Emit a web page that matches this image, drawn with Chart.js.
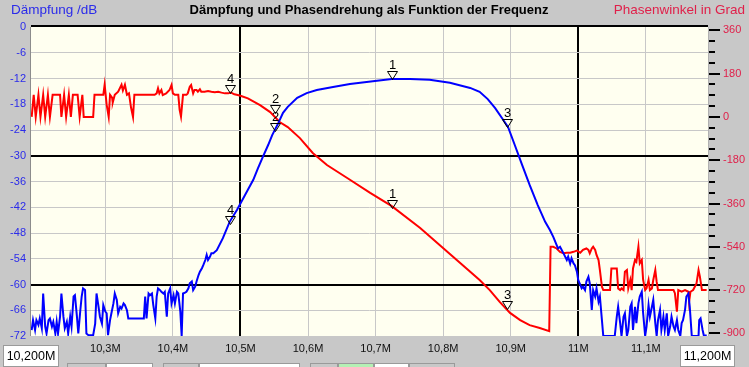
<!DOCTYPE html>
<html>
<head>
<meta charset="utf-8">
<script src="https://cdn.jsdelivr.net/npm/chart.js@4.4.1/dist/chart.umd.min.js"></script>
<style>
  html, body { margin: 0; padding: 0; background: #C8C8C8; }
  #wrap { position: relative; width: 749px; height: 367px; overflow: hidden; background: #C8C8C8; font-family: "Liberation Sans", Arial, sans-serif; }
  #c { position: absolute; left: 0; top: 0; }
  .t { position: absolute; white-space: nowrap; line-height: 1; }
  .box { position: absolute; background: #fff; border: 1px solid #9a9a9a; box-sizing: border-box; font-size: 12.5px; text-align: center; color: #000; }
  .sl { position: absolute; top: 363px; height: 4px; box-sizing: border-box; border: 1px solid #9a9a9a; border-bottom: none; }
</style>
</head>
<body>
<div id="wrap">
  <canvas id="c" width="749" height="367"></canvas>
  <div class="t" style="left:11px;top:3px;font-size:13.5px;color:#2B2BEA;">Dämpfung /dB</div>
  <div class="t" style="left:369px;top:3px;transform:translateX(-50%);font-size:13px;font-weight:bold;color:#000;">Dämpfung und Phasendrehung als Funktion der Frequenz</div>
  <div class="t" style="right:4px;top:3px;font-size:13.5px;color:#E0204A;">Phasenwinkel in Grad</div>
  <div class="sl" style="left:67px;width:39px;background:#C8C8C8;"></div>
  <div class="sl" style="left:106px;width:47px;background:#fff;"></div>
  <div class="sl" style="left:163px;width:36px;background:#C8C8C8;"></div>
  <div class="sl" style="left:199px;width:101px;background:#fff;"></div>
  <div class="sl" style="left:310px;width:28px;background:#C8C8C8;"></div>
  <div class="sl" style="left:338px;width:36px;background:#B4F0B4;"></div>
  <div class="sl" style="left:374px;width:35px;background:#fff;"></div>
  <div class="sl" style="left:409px;width:46px;background:#C8C8C8;"></div>
  <div class="box" style="left:3px;top:345px;width:56px;height:22px;line-height:20px;">10,200M</div>
  <div class="box" style="left:680px;top:345px;width:55px;height:22px;line-height:20px;">11,200M</div>
</div>
<script>
// ---- data (frequency in kHz) ----
const blueFreq = [10191,10193,10196,10198,10201,10203,10206,10208,10211,10213,10216,10218,10221,10223,10226,10228,10230,10233,10235,10238,10240,10243,10245,10248,10250,10253,10255,10258,10260,10263,10265,10267,10270,10272,10275,10282,10285,10287,10290,10292,10295,10297,10300,10302,10304,10307,10309,10312,10314,10317,10319,10322,10324,10327,10329,10332,10334,10357,10359,10361,10364,10366,10369,10371,10374,10376,10378,10381,10383,10386,10388,10391,10393,10396,10398,10401,10403,10406,10408,10411,10413,10415,10418,10420,10423,10425,10428,10430,10433,10435,10438,10440,10443,10445,10448,10450,10452,10455,10457,10460,10462,10465,10474,10484,10495,10507,10519,10526,10533,10541,10547,10556,10563,10570,10584,10598,10613,10637,10662,10699,10724,10751,10780,10810,10840,10854,10866,10877,10887,10896,10906,10917,10928,10940,10951,10958,10963,10968,10970,10973,10978,10983,10985,10988,10990,10993,10995,10998,11000,11003,11005,11007,11010,11012,11015,11017,11020,11022,11025,11027,11030,11032,11035,11037,11054,11057,11059,11062,11064,11067,11069,11072,11074,11077,11079,11081,11084,11086,11089,11091,11094,11096,11099,11101,11104,11106,11109,11111,11114,11116,11118,11121,11123,11126,11128,11131,11133,11136,11138,11141,11143,11146,11148,11151,11153,11155,11158,11160,11163,11165,11168,11178,11179,11181,11184,11186,11190];
const blueDb = [-70.6,-68.3,-70.6,-68.3,-69.4,-67.9,-70.2,-62.1,-69.8,-71.4,-68.3,-67.9,-69.8,-68.7,-71.4,-68.7,-71.4,-67.5,-62.1,-67.5,-70.2,-68.7,-71.4,-67.5,-69.8,-62.8,-62.5,-67.5,-71.4,-66.0,-62.8,-60.9,-61.3,-71.4,-71.8,-71.8,-69.1,-62.1,-65.2,-67.5,-69.1,-64.8,-66.3,-66.7,-71.8,-68.3,-66.7,-64.4,-62.1,-63.6,-66.7,-65.2,-65.6,-64.4,-64.8,-66.0,-67.9,-67.9,-62.8,-67.9,-62.1,-62.5,-62.1,-64.8,-67.9,-62.8,-60.9,-61.3,-61.7,-62.1,-61.7,-67.5,-62.1,-60.9,-64.4,-62.5,-64.4,-61.7,-62.1,-66.3,-72.0,-62.1,-61.9,-61.7,-60.9,-59.7,-59.3,-61.3,-60.5,-59.3,-57.8,-57.0,-56.2,-55.5,-54.3,-53.1,-54.3,-53.5,-52.7,-52.7,-52.4,-52.0,-49.2,-45.4,-42.6,-39.1,-35.6,-32.9,-30.3,-27.5,-25.2,-22.4,-20.0,-18.6,-16.5,-15.4,-14.7,-14.0,-13.3,-12.6,-12.1,-12.1,-12.3,-13.0,-14.2,-15.1,-16.8,-18.9,-21.2,-23.3,-27.5,-32.2,-36.8,-41.5,-45.4,-47.3,-48.9,-50.8,-51.6,-51.2,-52.7,-54.3,-53.5,-55.1,-53.9,-55.1,-55.5,-57.0,-59.0,-60.1,-60.9,-60.5,-61.3,-59.3,-58.2,-59.7,-65.9,-61.3,-62.8,-60.9,-64.0,-62.8,-68.3,-72,-72,-67.5,-65.2,-69.0,-72,-67.5,-66.7,-72,-70.6,-65.2,-64.4,-70.6,-65.2,-69.0,-64.4,-62.8,-61.7,-66.7,-72,-69.8,-64.8,-67.5,-65.2,-63.6,-69.0,-72,-68.3,-65.9,-70.6,-67.5,-70.6,-66.7,-72,-69.8,-67.5,-69.8,-70.6,-68.3,-70.6,-72,-69.0,-68.3,-65.9,-62.8,-62.1,-65.2,-72,-72,-68.3,-67.9,-70.6,-72,-71.8];

const redFreq = [10191,10194,10197,10201,10204,10208,10211,10215,10218,10222,10233,10235,10239,10242,10246,10249,10252,10259,10262,10266,10268,10282,10284,10297,10299,10302,10305,10307,10310,10311,10314,10319,10324,10326,10329,10332,10335,10338,10341,10343,10373,10376,10378,10380,10383,10385,10390,10395,10398,10400,10403,10408,10410,10412,10415,10420,10422,10425,10427,10430,10432,10435,10437,10440,10442,10447,10452,10457,10462,10467,10472,10477,10482,10486,10491,10496,10501,10511,10529,10544,10558,10570,10588,10607,10628,10658,10692,10724,10766,10810,10854,10869,10884,10899,10914,10928,10943,10957,10959,10963,10968,10973,10978,10983,10988,10993,10998,11003,11007,11012,11015,11017,11020,11022,11025,11027,11030,11032,11035,11037,11047,11049,11057,11059,11062,11064,11067,11069,11072,11074,11077,11079,11081,11084,11086,11089,11091,11094,11096,11099,11101,11104,11106,11109,11111,11114,11116,11118,11141,11143,11146,11148,11153,11158,11163,11164,11166,11170,11175,11178,11180,11183,11190];
const redDeg = [0,92,0,92,0,92,0,92,0,92,92,0,92,0,92,0,92,92,0,92,0,0,92,92,134,50,0,92,80,60,92,105,134,110,134,92,98,40,0,92,92,98,119,98,112,91,98,112,133,98,92,92,29,1,92,92,98,126,133,98,112,112,105,115,105,105,108,105,103,105,101,98,98,101,94,91,87,77,49,20,-21,-42,-88,-150,-200,-254,-316,-371,-462,-570,-678,-720,-770,-815,-845,-866,-878,-891,-540,-540,-547,-561,-567,-565,-565,-561,-556,-565,-553,-547,-553,-567,-547,-540,-553,-574,-595,-637,-706,-720,-720,-630,-630,-713,-720,-713,-720,-644,-637,-713,-678,-720,-630,-595,-602,-540,-609,-595,-678,-720,-713,-678,-720,-713,-678,-637,-685,-720,-720,-733,-810,-720,-727,-720,-727,-768,-727,-720,-692,-637,-664,-720,-720];

const markerNames = ['1','2','3','4'];
const markerFreq = [10724, 10551, 10895, 10484];
const markerBlueDb = [-12.1, -24.2, -23.3, -45.9];
const markerRedDeg = [-380, 16, -799, 99];

const xTickFreqs = [10300,10400,10500,10600,10700,10800,10900,11000,11100];
const xTickLabels = ['10,3M','10,4M','10,5M','10,6M','10,7M','10,8M','10,9M','11M','11,1M'];
const xMajorLines = [10500, 11000];
const dbMajorLines = [-30, -60];

// ---- chart ----
Chart.defaults.font.family = '"Liberation Sans", Arial, sans-serif';
const toPts = (xs, ys) => xs.map((x, i) => ({x: x, y: ys[i]}));

const plotDeco = {
  id: 'plotDeco',
  beforeDraw(chart) {
    const a = chart.chartArea, ctx = chart.ctx;
    ctx.save();
    ctx.fillStyle = '#FFFFF0';
    ctx.fillRect(a.left, a.top, a.right - a.left, a.bottom - a.top);
    ctx.restore();
  },
  afterDraw(chart) {
    const a = chart.chartArea, ctx = chart.ctx;
    ctx.save();
    ctx.strokeStyle = '#000';
    ctx.lineWidth = 2;
    ctx.beginPath(); ctx.moveTo(a.left, a.top - 1); ctx.lineTo(a.right, a.top - 1); ctx.stroke();
    ctx.lineWidth = 1;
    ctx.strokeStyle = '#8c8c8c';
    ctx.beginPath(); ctx.moveTo(a.left - 0.5, a.top); ctx.lineTo(a.left - 0.5, a.bottom); ctx.stroke();
    ctx.strokeStyle = '#b0b0b0';
    ctx.beginPath(); ctx.moveTo(a.right + 0.5, a.top); ctx.lineTo(a.right + 0.5, a.bottom); ctx.stroke();
    // major tick extension on right axis
    const y2 = chart.scales.y2;
    ctx.strokeStyle = '#000';
    ctx.lineWidth = 2;
    y2.ticks.forEach(t => {
      if (t.value % 180 === 0) {
        const py = Math.round(y2.getPixelForValue(t.value));
        ctx.beginPath(); ctx.moveTo(a.right + 6, py); ctx.lineTo(a.right + 12, py); ctx.stroke();
      }
    });
    ctx.restore();
  },
  afterDatasetsDraw(chart) {
    const ctx = chart.ctx, xs = chart.scales.x, ys = chart.scales.y, y2 = chart.scales.y2;
    ctx.save();
    ctx.strokeStyle = '#000';
    ctx.fillStyle = '#000';
    ctx.lineWidth = 1;
    ctx.font = '13px "Liberation Sans", Arial, sans-serif';
    ctx.textAlign = 'center';
    ctx.textBaseline = 'alphabetic';
    const draw = (px, py, label) => {
      px = Math.round(px) + 0.5; py = Math.round(py) + 0.5;
      ctx.beginPath();
      ctx.moveTo(px, py); ctx.lineTo(px - 5, py - 8); ctx.lineTo(px + 5, py - 8); ctx.closePath();
      ctx.stroke();
      ctx.fillText(label, px, py - 11);
    };
    markerNames.forEach((n, i) => {
      const px = xs.getPixelForValue(markerFreq[i]);
      draw(px, ys.getPixelForValue(markerBlueDb[i]), n);
      draw(px, y2.getPixelForValue(markerRedDeg[i]), n);
    });
    ctx.restore();
  }
};

new Chart(document.getElementById('c'), {
  type: 'line',
  data: {
    datasets: [
      { label: 'Dämpfung', data: toPts(blueFreq, blueDb), yAxisID: 'y', borderColor: '#0000FF', borderWidth: 2, pointRadius: 0, tension: 0, fill: false },
      { label: 'Phasenwinkel', data: toPts(redFreq, redDeg), yAxisID: 'y2', borderColor: '#FF0000', borderWidth: 2, pointRadius: 0, tension: 0, fill: false }
    ]
  },
  options: {
    responsive: false,
    animation: false,
    devicePixelRatio: 1,
    layout: { padding: { top: 27, left: 0, right: 0, bottom: 0 } },
    plugins: { legend: { display: false }, tooltip: { enabled: false }, title: { display: false } },
    scales: {
      x: {
        type: 'linear', min: 10190, max: 11192,
        afterBuildTicks: s => { s.ticks = xTickFreqs.map(v => ({value: v})); },
        afterFit: s => { s.height = 31; },
        border: { display: false },
        grid: {
          drawTicks: false,
          color: c => xMajorLines.includes(c.tick.value) ? '#000' : '#C8C8C8',
          lineWidth: c => xMajorLines.includes(c.tick.value) ? 2 : 1
        },
        ticks: {
          padding: 6, color: '#101010', font: { size: 11 }, maxRotation: 0, autoSkip: false,
          callback: v => { const i = xTickFreqs.indexOf(v); return i >= 0 ? xTickLabels[i] : ''; }
        }
      },
      y: {
        type: 'linear', position: 'left', min: -72, max: 0,
        afterFit: s => { s.width = 31; },
        border: { display: false },
        grid: {
          drawTicks: false,
          color: c => dbMajorLines.includes(c.tick.value) ? '#000' : ((c.tick.value === 0 || c.tick.value === -72) ? 'rgba(0,0,0,0)' : '#C8C8C8'),
          lineWidth: c => dbMajorLines.includes(c.tick.value) ? 2 : 1
        },
        ticks: { stepSize: 6, padding: 5, color: '#2B2BEA', font: { size: 11 } }
      },
      y2: {
        type: 'linear', position: 'right', min: -911, max: 374,
        afterFit: s => { s.width = 41; },
        border: { display: false },
        grid: { drawOnChartArea: false, drawTicks: true, tickLength: 7, tickColor: '#000', tickWidth: 2, lineWidth: 2 },
        ticks: {
          stepSize: 45, includeBounds: false, padding: 8, color: '#E0204A', font: { size: 11 }, autoSkip: false,
          callback: v => (v % 180 === 0 ? String(v) : '')
        }
      }
    }
  },
  plugins: [plotDeco]
});
</script>
</body>
</html>
